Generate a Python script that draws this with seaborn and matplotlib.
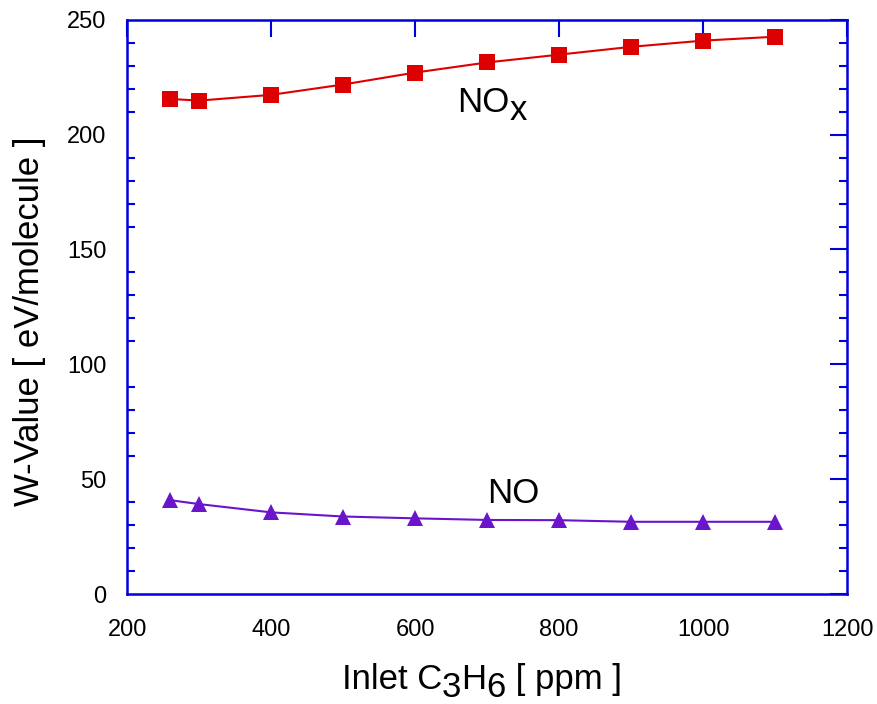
import numpy as np
import pandas as pd
import seaborn as sns
import matplotlib
matplotlib.use("Agg")
from matplotlib import pyplot as plt
from matplotlib.ticker import MultipleLocator

# 数据
c3h6_ppm = [260, 300, 400, 500, 600, 700, 800, 900, 1000, 1100]
w_nox = [215.5, 214.8, 217.3, 221.8, 227.0, 231.4, 234.8, 238.2, 240.9, 242.6]
w_no = [40.9, 39.2, 35.6, 33.8, 33.0, 32.3, 32.2, 31.5, 31.5, 31.5]

sns.set_theme(style="white")
plt.rcParams['font.family'] = ['Liberation Sans', 'DejaVu Sans']
plt.rcParams['text.color'] = 'black'
plt.rcParams['xtick.color'] = 'black'
plt.rcParams['ytick.color'] = 'black'

df = pd.DataFrame({'ppm': c3h6_ppm, 'NOx': w_nox, 'NO': w_no})

fig = plt.figure(figsize=(8.77, 7.04), dpi=100)
ax = fig.add_axes([0.145, 0.156, 0.821, 0.816])

sns.lineplot(data=df, x='ppm', y='NOx', ax=ax, color='#dd0000', lw=1.5,
             marker='s', markersize=11, markeredgewidth=0)
sns.lineplot(data=df, x='ppm', y='NO', ax=ax, color='#6a14cc', lw=1.5,
             marker='^', markersize=11, markeredgewidth=0)

ax.set_xlim(200, 1200)
ax.set_ylim(0, 250)
ax.xaxis.set_major_locator(MultipleLocator(200))
ax.yaxis.set_major_locator(MultipleLocator(50))
ax.yaxis.set_minor_locator(MultipleLocator(10))

blue = '#0000dd'
for s in ax.spines.values():
    s.set_color(blue)
    s.set_linewidth(1.8)
ax.tick_params(axis='both', which='major', direction='in', length=12, width=1.5,
               color=blue, labelcolor='black', top=True, right=True, labelsize=17)
ax.tick_params(axis='x', which='major', pad=18)
ax.tick_params(axis='y', which='major', pad=15)
ax.tick_params(axis='y', which='minor', direction='in', length=6, width=1.5,
               color=blue, left=True, right=True)
ax.tick_params(axis='x', which='minor', bottom=False, top=False)
ax.set_xlabel('')
ax.set_ylabel('')

# y 轴标题
fig.text(30 / 877, 1 - 321 / 704, 'W-Value [ eV/molecule ]', fontsize=25,
         rotation=90, ha='center', va='center')

# x 轴标题（下标与正文同字号，只是下移）
def chain(parts, x0, y0, size, drop):
    first = fig.text(x0, y0, parts[0][0], fontsize=size, va='baseline', ha='left')
    arts = [first]
    lows = [False]
    for txt, low in parts[1:]:
        dy = 0
        if low and not lows[-1]:
            dy = -drop
        elif lows[-1] and not low:
            dy = drop
        a = ax.annotate(txt, xy=(1, 0), xycoords=arts[-1], xytext=(0, dy),
                        textcoords='offset points', fontsize=size,
                        va='bottom', ha='left', annotation_clip=False)
        arts.append(a)
        lows.append(low)
    return arts

xl = chain([('Inlet C', False), ('3', True), ('H', False), ('6', True),
            (' [ ppm ]', False)], 0.4, 1 - 689 / 704, 25, 5.5)
fig.canvas.draw()
r = fig.canvas.get_renderer()
left = xl[0].get_window_extent(r).x0
right = xl[-1].get_window_extent(r).x1
shift = 481.5 - (left + right) / 2
xl[0].set_x(xl[0].get_position()[0] + shift / 877)

# 曲线标注
t1 = ax.text(658, 210, 'NO', fontsize=25, ha='left', va='baseline')
ax.annotate('x', xy=(1, 0), xycoords=t1, xytext=(0.5, -6), textcoords='offset points',
            fontsize=25, ha='left', va='bottom')
ax.text(736, 39.6, 'NO', fontsize=25, ha='center', va='baseline')

fig.savefig('out.png', dpi=100)
